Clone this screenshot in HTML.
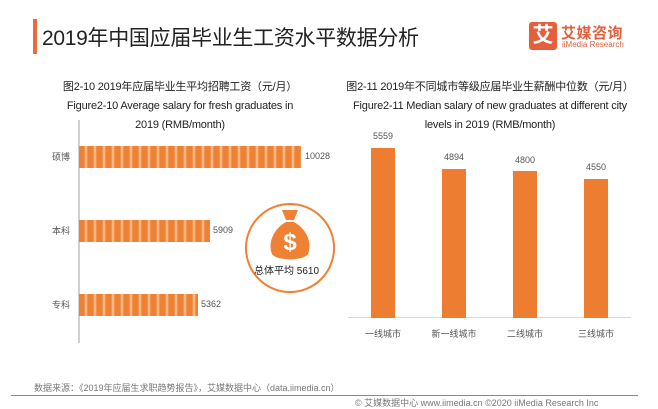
<!DOCTYPE html>
<html><head><meta charset="utf-8"><style>
body{margin:0;width:658px;height:400px;background:#fff;position:relative;overflow:hidden;font-family:"Liberation Sans","Noto Sans CJK SC",sans-serif;}
.a{position:absolute;white-space:nowrap;}
.hb{position:absolute;left:79px;height:22px;background:repeating-linear-gradient(90deg,#ee8133 0,#ee8133 5px,#f8c9a2 7px,#ee8133 9px);}
.vb{position:absolute;width:24px;background:#ed7d31;bottom:82px;}
.t{font-size:11px;color:#222;text-align:center;line-height:19px;letter-spacing:-0.2px;}
.s{font-size:9px;color:#555;}
</style></head><body>
<div class="a" style="left:33px;top:19px;width:4px;height:35px;background:#ee6a3a"></div>
<div class="a" style="left:42px;top:22px;font-size:21px;color:#222;letter-spacing:-0.3px;">2019年中国应届毕业生工资水平数据分析</div>
<div class="a" style="left:529px;top:22px;width:28px;height:28px;background:#e65f3c;border-radius:3px;color:#fff;font-size:21px;font-weight:bold;text-align:center;line-height:28px;">艾</div>
<div class="a" style="left:561px;top:22px;font-size:15px;font-weight:bold;color:#e65f3c;letter-spacing:0.5px;">艾媒咨询</div>
<div class="a" style="left:562px;top:40px;font-size:8px;color:#e65f3c;">iiMedia Research</div>

<div class="a t" style="left:45px;top:78px;width:270px;">图2-10 2019年应届毕业生平均招聘工资（元/月）<br>Figure2-10 Average salary for fresh graduates in<br>2019 (RMB/month)</div>
<div class="a t" style="left:330px;top:78px;width:320px;">图2-11 2019年不同城市等级应届毕业生薪酬中位数（元/月）<br>Figure2-11 Median salary of new graduates at different city<br>levels in 2019 (RMB/month)</div>

<div class="a" style="left:78px;top:120px;width:2px;height:223px;background:#d0d0d0"></div>
<div class="hb" style="top:146px;width:222px"></div>
<div class="hb" style="top:220px;width:131px"></div>
<div class="hb" style="top:294px;width:119px"></div>
<div class="a s" style="left:52px;top:150px;">硕博</div>
<div class="a s" style="left:52px;top:224px;">本科</div>
<div class="a s" style="left:52px;top:298px;">专科</div>
<div class="a s" style="left:305px;top:151px;">10028</div>
<div class="a s" style="left:213px;top:225px;">5909</div>
<div class="a s" style="left:201px;top:299px;">5362</div>

<div class="a" style="left:245px;top:203px;width:86px;height:86px;border:2px solid #ee8133;border-radius:50%;"></div>
<svg class="a" style="left:268px;top:208px" width="44" height="54" viewBox="0 0 44 54">
<path d="M14 2 L30 2 L26 12 L18 12 Z" fill="#ee8133"/>
<path d="M18 14 L26 14 C40 22 44 36 40 46 C36 53 8 53 4 46 C0 36 4 22 18 14 Z" fill="#ee8133"/>
<text x="22" y="42" font-size="24" font-weight="bold" fill="#fff" text-anchor="middle" font-family="Liberation Sans">$</text>
</svg>
<div class="a" style="left:254px;top:262px;font-size:10px;color:#222;">总体平均 5610</div>

<div class="a" style="left:348px;top:317px;width:283px;height:1px;background:#d9d9d9"></div>
<div class="vb" style="left:371px;top:148px;"></div>
<div class="vb" style="left:442px;top:169px;"></div>
<div class="vb" style="left:513px;top:171px;"></div>
<div class="vb" style="left:584px;top:179px;"></div>
<div class="a s" style="left:371px;top:131px;width:24px;text-align:center;">5559</div>
<div class="a s" style="left:442px;top:152px;width:24px;text-align:center;">4894</div>
<div class="a s" style="left:513px;top:155px;width:24px;text-align:center;">4800</div>
<div class="a s" style="left:584px;top:162px;width:24px;text-align:center;">4550</div>
<div class="a s" style="left:363px;top:327px;width:40px;text-align:center;">一线城市</div>
<div class="a s" style="left:429px;top:327px;width:50px;text-align:center;">新一线城市</div>
<div class="a s" style="left:505px;top:327px;width:40px;text-align:center;">二线城市</div>
<div class="a s" style="left:576px;top:327px;width:40px;text-align:center;">三线城市</div>

<div class="a" style="left:34px;top:381px;font-size:9px;color:#777;">数据来源：《2019年应届生求职趋势报告》，艾媒数据中心（data.iimedia.cn）</div>
<div class="a" style="left:11px;top:395px;width:627px;height:1px;background:#888"></div>
<div class="a" style="left:355px;top:396px;font-size:9px;color:#777;">© 艾媒数据中心 www.iimedia.cn ©2020 iiMedia Research Inc</div>
</body></html>
